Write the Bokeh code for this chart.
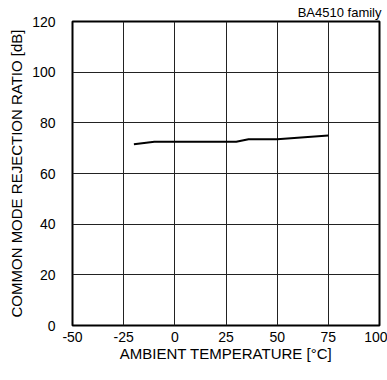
from bokeh.plotting import figure
from bokeh.models import FixedTicker, Range1d
from bokeh.embed import file_html
from bokeh.resources import INLINE

temps = [-20, -10, 30, 36, 50, 75]
cmrr = [71.5, 72.5, 72.5, 73.5, 73.5, 75.0]
x_ticks = [-50, -25, 0, 25, 50, 75, 100]
y_ticks = [0, 20, 40, 60, 80, 100, 120]
x_tick_labels = ["-50", "-25", "0", "25", "50", "75", "100"]
x_title = "AMBIENT TEMPERATURE [°C]"
y_title = "COMMON MODE REJECTION RATIO [dB]"
tag = "BA4510 family"

FONT = "Liberation Sans"

p = figure(frame_width=307, frame_height=304, output_backend="svg", toolbar_location=None,
           x_range=Range1d(-50, 100), y_range=Range1d(0, 120),
           min_border_left=72, min_border_right=8, min_border_top=19, min_border_bottom=50,
           title=tag)
p.title.align = "right"
p.title.text_font = FONT
p.title.text_font_size = "13px"
p.title.text_font_style = "normal"
p.title.text_color = "black"
p.title.standoff = 4
p.title.offset = -2

p.background_fill_color = "white"
p.border_fill_color = "white"
p.outline_line_color = "black"
p.outline_line_width = 2

for ax in (p.xaxis, p.yaxis):
    ax.axis_line_color = None
    ax.major_tick_line_color = None
    ax.minor_tick_line_color = None
    ax.major_label_text_font = FONT
    ax.major_label_text_font_size = "14px"
    ax.major_label_text_color = "black"
    ax.axis_label_text_font = FONT
    ax.axis_label_text_font_size = "15px"
    ax.axis_label_text_font_style = "normal"
    ax.axis_label_text_color = "black"

p.xaxis.ticker = FixedTicker(ticks=x_ticks)
p.xaxis.major_label_overrides = {t: s for t, s in zip(x_ticks, x_tick_labels)}
p.yaxis.ticker = FixedTicker(ticks=y_ticks)
p.xaxis.major_label_standoff = 0
p.yaxis.major_label_standoff = 11
p.xaxis.axis_label = x_title
p.yaxis.axis_label = y_title
p.xaxis.axis_label_standoff = 0
p.yaxis.axis_label_standoff = 4

p.xgrid.ticker = FixedTicker(ticks=x_ticks)
p.ygrid.ticker = FixedTicker(ticks=y_ticks)
p.grid.grid_line_color = "#222222"
p.grid.grid_line_width = 1

p.line(temps, cmrr, line_color="black", line_width=2)

open("out.html", "w").write(file_html(p, INLINE))
